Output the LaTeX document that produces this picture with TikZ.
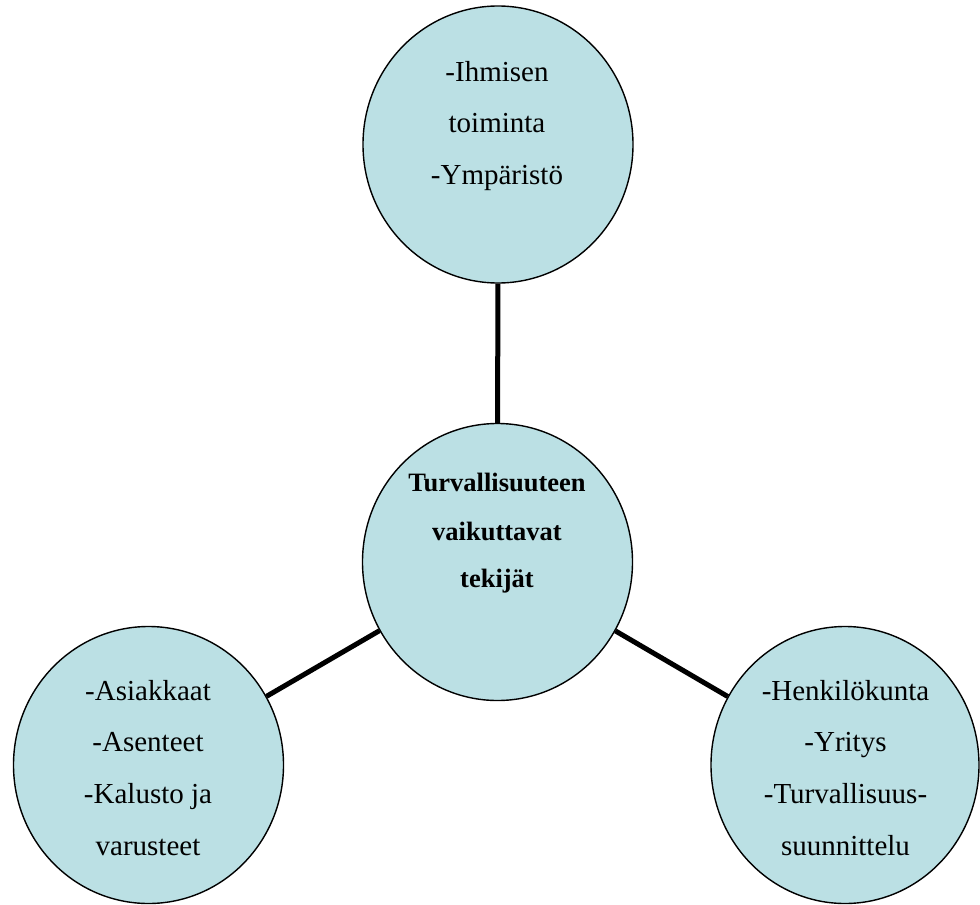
\documentclass[tikz,border=0pt]{standalone}
\usepackage{fontspec}
\setmainfont{Liberation Serif}
\usetikzlibrary{shapes.geometric}
\definecolor{bubble}{RGB}{187,224,228}
\tikzset{
  bubble/.style={ellipse, draw=black, line width=1.4pt, fill=bubble, inner sep=0pt,
    minimum width=270pt, minimum height=277pt},
  txt/.style={anchor=base, inner sep=0pt, font=\fontsize{29}{34}\selectfont},
  btxt/.style={anchor=base, inner sep=0pt, font=\fontsize{26.5}{32}\selectfont\bfseries},
  link/.style={line width=5pt, draw=black}
}
\begin{document}
\begin{tikzpicture}[x=1pt,y=-1pt]
\useasboundingbox (0,0) rectangle (980,905);
\node[bubble] (top) at (498,144.5) {};
\node[bubble] (mid) at (497.5,562) {};
\node[bubble] (left) at (148.5,765) {};
\node[bubble, minimum width=268pt] (right) at (845,765) {};
\draw[link] (top) -- (mid);
\draw[link] (left) -- (mid);
\draw[link] (right) -- (mid);
% top texts
\node[txt] (t1) at (497,81) {-Ihmisen};
\node[txt] (t2) at (497,132.5) {toiminta};
\node[txt] (t3) at (497,184.3) {-Ympäristö};
% center texts
\node[btxt] (m1) at (497,491.7) {Turvallisuuteen};
\node[btxt] (m2) at (497,540) {vaikuttavat};
\node[btxt] (m3) at (497,587.7) {tekijät};
% left texts
\node[txt] (l1) at (148,700) {-Asiakkaat};
\node[txt] (l2) at (148,751.7) {-Asenteet};
\node[txt] (l3) at (148,803.3) {-Kalusto ja};
\node[txt] (l4) at (148,855) {varusteet};
% right texts
\node[txt] (r1) at (845.5,700) {-Henkilökunta};
\node[txt] (r2) at (845.5,751.7) {-Yritys};
\node[txt] (r3) at (845.5,803.3) {-Turvallisuus-};
\node[txt] (r4) at (845.5,855) {suunnittelu};
\end{tikzpicture}
\end{document}
